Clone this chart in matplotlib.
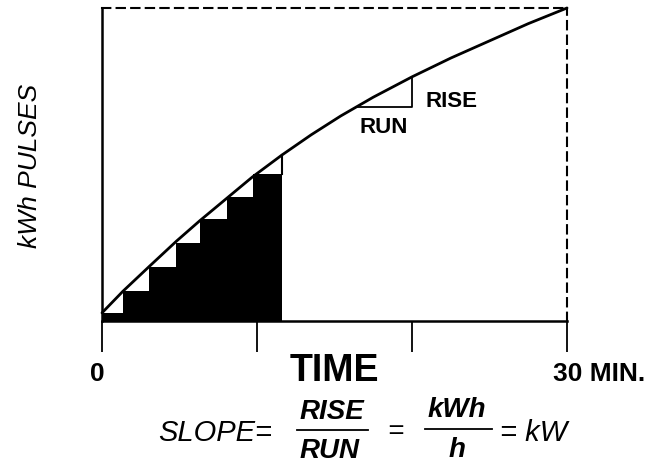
"""Schematic of kWh pulses accumulating over time, slope = demand (kW)."""
import matplotlib
matplotlib.use("Agg")
import matplotlib.pyplot as plt
import numpy as np
from matplotlib.lines import Line2D

# curve of accumulated energy (time in minutes, energy in arbitrary pulse units)
curve_t = [0, 1.35, 3.0, 4.8, 6.3, 8.0, 9.7, 11.6, 13.5, 15.4, 17.5, 20.0, 22.5, 25.0, 27.5, 30]
curve_kwh = [0.26, 0.95, 1.72, 2.55, 3.2, 3.9, 4.6, 5.3, 5.95, 6.55, 7.15, 7.8, 8.4, 8.95, 9.5, 10.0]

# staircase of counted pulses
step_edges = [0, 1.35, 3.0, 4.75, 6.35, 8.05, 9.75, 11.6]
step_kwh = [0.26, 0.96, 1.72, 2.50, 3.25, 3.97, 4.70]

# rise / run triangle on the curve
run_start, run_end = 16.4, 20.0

time_ticks = [0, 10, 20, 30]

W, H = 653, 467


def fx(px):
    return px / W


def fy(py):
    return 1 - py / H


fig = plt.figure(figsize=(W / 100, H / 100), dpi=100)
ax = fig.add_axes([fx(102), fy(321), 465 / W, 313 / H])
ax.set_xlim(0, 30)
ax.set_ylim(0, 10)

# pulses
ax.stairs(step_kwh, step_edges, fill=True, color="black", baseline=0)
edge_top = np.interp(step_edges[-1], curve_t, curve_kwh)
ax.plot([step_edges[-1], step_edges[-1]], [step_kwh[-1], edge_top], color="black", lw=1.5)

# energy curve
ax.plot(curve_t, curve_kwh, color="black", lw=2.0, clip_on=False, solid_capstyle="round")

# rise / run
y0 = np.interp(run_start, curve_t, curve_kwh)
y1 = np.interp(run_end, curve_t, curve_kwh)
ax.plot([run_start, run_end, run_end], [y0, y0, y1], color="black", lw=1.3)
ax.text(run_end + 0.9, (y0 + y1) / 2 - 0.3, "RISE", fontsize=16, fontweight="bold",
        ha="left", va="center", family="Liberation Sans")
ax.text((run_start + run_end) / 2, y0 - 0.65, "RUN", fontsize=16, fontweight="bold",
        ha="center", va="center", family="Liberation Sans")

# frame
for side in ("left", "bottom"):
    ax.spines[side].set_linewidth(1.8)
for side in ("top", "right"):
    ax.spines[side].set_linewidth(1.5)
    ax.spines[side].set_linestyle((0, (4, 3)))

ax.set_yticks([])
ax.set_xticks(time_ticks)
ax.set_xticklabels([])
ax.tick_params(axis="x", direction="out", length=22, width=1.3)

# axis labels
trans = ax.get_xaxis_transform()
ax.text(-0.3, (321 - 381) / 313, "0", transform=trans, fontsize=19,
        fontweight="bold", ha="center", va="baseline", family="Liberation Sans")
ax.text(15, (321 - 381) / 313, "TIME", transform=trans, fontsize=27,
        fontweight="bold", ha="center", va="baseline", family="Liberation Sans")
ax.text(29.1, (321 - 381) / 313, "30 MIN.", transform=trans, fontsize=19,
        fontweight="bold", ha="left", va="baseline", family="Liberation Sans")

fig.text(fx(30), fy(166), "kWh PULSES", rotation=90, fontsize=19, style="italic",
         ha="center", va="center", family="Liberation Sans")

# slope formula
fig.text(fx(158), fy(441), "SLOPE=", fontsize=21, style="italic",
         ha="left", va="baseline", family="Liberation Sans")
fig.text(fx(332), fy(419), "RISE", fontsize=20, style="italic", fontweight="bold",
         ha="center", va="baseline", family="Liberation Sans")
fig.text(fx(330), fy(458), "RUN", fontsize=20, style="italic", fontweight="bold",
         ha="center", va="baseline", family="Liberation Sans")
fig.add_artist(Line2D([fx(297), fx(368)], [fy(430), fy(430)], color="black", lw=1.3,
                      transform=fig.transFigure))
fig.text(fx(395), fy(439), "=", fontsize=20, style="italic",
         ha="center", va="baseline", family="Liberation Sans")
fig.text(fx(457), fy(417), "kWh", fontsize=20, style="italic", fontweight="bold",
         ha="center", va="baseline", family="Liberation Sans")
fig.text(fx(457), fy(457), "h", fontsize=20, style="italic", fontweight="bold",
         ha="center", va="baseline", family="Liberation Sans")
fig.add_artist(Line2D([fx(425), fx(492)], [fy(429), fy(429)], color="black", lw=1.3,
                      transform=fig.transFigure))
fig.text(fx(500), fy(441), "= kW", fontsize=21, style="italic",
         ha="left", va="baseline", family="Liberation Sans")

fig.savefig("out.png", dpi=100)
